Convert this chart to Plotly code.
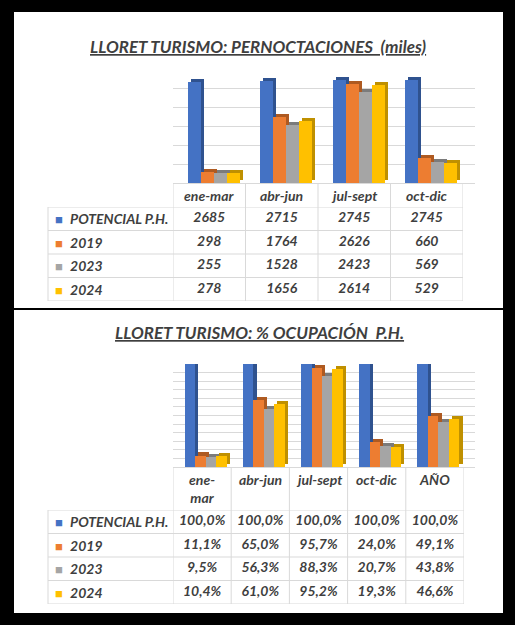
import plotly.graph_objects as go

# Datos: pernoctaciones (miles) por trimestre
trimestres = ['ene-mar', 'abr-jun', 'jul-sept', 'oct-dic']
series = ['POTENCIAL P.H.', '2019', '2023', '2024']
pern_potencial = [2685, 2715, 2745, 2745]
pern_2019 = [298, 1764, 2626, 660]
pern_2023 = [255, 1528, 2423, 569]
pern_2024 = [278, 1656, 2614, 529]

# Datos: % ocupación
periodos = ['ene-mar', 'abr-jun', 'jul-sept', 'oct-dic', 'AÑO']
cabecera_oc = ['ene-<br>mar', 'abr-jun', 'jul-sept', 'oct-dic', 'AÑO']
oc_potencial = [100.0, 100.0, 100.0, 100.0, 100.0]
oc_2019 = [11.1, 65.0, 95.7, 24.0, 49.1]
oc_2023 = [9.5, 56.3, 88.3, 20.7, 43.8]
oc_2024 = [10.4, 61.0, 95.2, 19.3, 46.6]

colores = ['#4472C4', '#ED7D31', '#A5A5A5', '#FFC000']
sombras = ['#2F528F', '#AE5A21', '#7B7B7B', '#BF9000']
TXT = '#3F3F3F'
GRID = '#D9D9D9'
FONT = 'Lato'
FS = 14
W, H = 515, 625


def py(p):
    return 1 - p / H


def px(p):
    return p / W


def bi(v):
    return '<b><i>%s</i></b>' % v


def pct(v):
    return ('%.1f%%' % v).replace('.', ',')


fig = go.Figure()
shapes = []
annots = []


def barras(cats, valores, xa, ya, dx, dy):
    # caras laterales (efecto 3D) primero, luego las caras frontales
    for k, vals in enumerate(valores):
        fig.add_trace(go.Bar(x=cats, y=vals, base=dy, offset=-0.30 + k * 0.18 + dx,
                             width=0.18, marker=dict(color=sombras[k], line=dict(width=0)),
                             xaxis=xa, yaxis=ya, showlegend=False, hoverinfo='skip'))
    for k, vals in enumerate(valores):
        fig.add_trace(go.Bar(x=cats, y=vals, offset=-0.30 + k * 0.18,
                             width=0.18, marker=dict(color=colores[k], line=dict(width=0)),
                             xaxis=xa, yaxis=ya, name=series[k], showlegend=False))


def tabla(cats, cabecera, valores, fmt, xa, ya, top, body_top, body_bottom, header_y, header_anchor):
    # celdas con los valores
    for k, vals in enumerate(valores):
        fig.add_trace(go.Scatter(x=cats, y=[series[k]] * len(cats), mode='text',
                                 text=[bi(fmt(v)) for v in vals],
                                 textfont=dict(family=FONT, size=FS, color=TXT),
                                 xaxis=xa, yaxis=ya, showlegend=False, hoverinfo='skip'))
    # cabecera
    for c, t in zip(cats, cabecera):
        annots.append(dict(text=bi(t), x=c, xref=xa, y=py(header_y), yref='paper',
                           yanchor=header_anchor, showarrow=False,
                           font=dict(family=FONT, size=FS, color=TXT)))
    # etiquetas de serie con su color (fila = posición en el eje de categorías)
    for k, s in enumerate(series):
        annots.append(dict(text='<span style="color:%s;font-size:13px">■</span>  %s' % (colores[k], bi(s)),
                           x=px(53), xref='paper', xanchor='left', y=k, yref=ya,
                           showarrow=False, font=dict(family=FONT, size=FS, color=TXT)))
    # bordes
    ln = dict(color=GRID, width=1)
    for j in range(len(cats) + 1):
        shapes.append(dict(type='line', xref=xa, yref='paper', x0=j - 0.5, x1=j - 0.5,
                           y0=py(top), y1=py(body_bottom), line=ln))
    for k in range(len(series) + 1):
        shapes.append(dict(type='line', xref='paper', yref=ya, x0=px(48), x1=xa_right[xa],
                           y0=k - 0.5, y1=k - 0.5, line=ln))
    shapes.append(dict(type='line', xref='paper', yref='paper', x0=px(48), x1=px(48),
                       y0=py(body_top), y1=py(body_bottom), line=ln))


xa_right = {'x3': px(463), 'x4': px(464)}

barras(trimestres, [pern_potencial, pern_2019, pern_2023, pern_2024], 'x', 'y', 0.045, 80)
barras(periodos, [oc_potencial, oc_2019, oc_2023, oc_2024], 'x2', 'y2', 0.055, 3)

tabla(trimestres, trimestres, [pern_potencial, pern_2019, pern_2023, pern_2024], str,
      'x3', 'y3', 183, 207, 301, 195, 'middle')
tabla(periodos, cabecera_oc, [oc_potencial, oc_2019, oc_2023, oc_2024], pct,
      'x4', 'y4', 467, 510, 604, 469, 'top')

ejes_y = dict(showticklabels=False, showgrid=True, gridcolor=GRID, gridwidth=1,
              zeroline=False, showline=False, ticks='')
ejes_x = dict(showticklabels=False, showgrid=False, zeroline=False, showline=True,
              linecolor=GRID, ticks='')
oculto = dict(visible=False, showgrid=False, zeroline=False)

annots += [
    dict(text='<b><i><u>LLORET TURISMO: PERNOCTACIONES  (miles)</u></i></b>',
         xref='paper', yref='paper', x=px(258), y=py(34), showarrow=False,
         font=dict(family=FONT, size=17, color=TXT)),
    dict(text='<b><i><u>LLORET TURISMO: % OCUPACIÓN  P.H.</u></i></b>',
         xref='paper', yref='paper', x=px(259), y=py(332), showarrow=False,
         font=dict(family=FONT, size=17, color=TXT)),
]

shapes = [
    dict(type='rect', xref='paper', yref='paper', layer='below',
         x0=px(14), x1=px(503), y0=py(308), y1=py(12),
         fillcolor='white', line=dict(width=0)),
    dict(type='rect', xref='paper', yref='paper', layer='below',
         x0=px(14), x1=px(503), y0=py(613), y1=py(310),
         fillcolor='white', line=dict(width=0)),
] + shapes

fig.update_layout(
    width=W, height=H,
    margin=dict(l=0, r=0, t=0, b=0),
    paper_bgcolor='black', plot_bgcolor='rgba(0,0,0,0)',
    barmode='overlay', bargap=0,
    xaxis=dict(domain=[px(173), px(475)], range=[-0.5, 3.5 + 12 / 72.5], **ejes_x),
    yaxis=dict(domain=[py(183), py(70)], range=[0, 3000], dtick=500, **ejes_y),
    xaxis2=dict(domain=[px(173), px(475)], range=[-0.5, 4.5 + 11 / 58.2], anchor='y2', **ejes_x),
    yaxis2=dict(domain=[py(467), py(364)], range=[0, 100], tickmode='array',
                tickvals=[i * 100 / 12 for i in range(13)], anchor='x2', **ejes_y),
    xaxis3=dict(domain=[px(173), px(463)], range=[-0.5, 3.5], anchor='y3',
                type='category', categoryarray=trimestres, **oculto),
    yaxis3=dict(domain=[py(301), py(207)], range=[3.5, -0.5], anchor='x3',
                type='category', categoryarray=series, **oculto),
    xaxis4=dict(domain=[px(173), px(464)], range=[-0.5, 4.5], anchor='y4',
                type='category', categoryarray=periodos, **oculto),
    yaxis4=dict(domain=[py(604), py(510)], range=[3.5, -0.5], anchor='x4',
                type='category', categoryarray=series, **oculto),
    shapes=shapes,
    annotations=annots,
)

fig.write_html('out.html', config={'displayModeBar': False},
               post_script="document.body.style.margin='0';")
